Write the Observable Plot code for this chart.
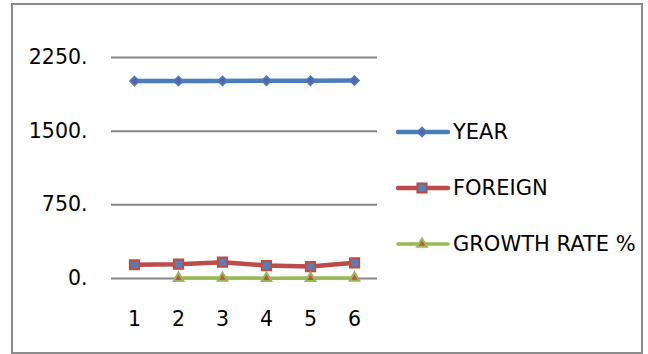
<!DOCTYPE html>
<html><head><meta charset="utf-8">
<script src="https://cdn.jsdelivr.net/npm/d3@7"></script>
<script src="https://cdn.jsdelivr.net/npm/@observablehq/plot@0.6"></script>
<style>
body{margin:0;background:#fff;}
#wrap{position:relative;width:648px;height:354px;overflow:hidden;font-family:"DejaVu Sans",sans-serif;background:#fff;}
#frame{position:absolute;left:11px;top:3px;width:632px;height:351px;border:2px solid #8c8c8c;box-sizing:border-box;}
#chart{position:absolute;left:0;top:0;}
.item{position:absolute;left:396px;height:24px;display:flex;align-items:center;white-space:nowrap;font-size:21px;color:#000;}
.item svg{display:block;margin-right:3px;}
</style></head>
<body>
<div id="wrap"><div id="frame"></div><div id="chart"></div></div>
<script>
const xLabels = [1, 2, 3, 4, 5, 6];
const yTicks = [0, 750, 1500, 2250];
const seriesNames = ["YEAR", "FOREIGN", "GROWTH RATE %"];
const year = [2010, 2011, 2012, 2013, 2014, 2015];
const foreign = [140, 146, 166, 132, 122, 160];
const growth = [null, 4.2, 5.1, 3.5, 4.0, 6.3];

const rows = xLabels.map((x, i) => ({x, year: year[i], foreign: foreign[i], growth: growth[i]}));
const growthRows = rows.filter(d => d.growth != null);

const C = {
  year: {line: "#4a7ebb", fill: "#5b63a8", stroke: "#4a7ebb", symbol: "diamond2", r: 4.2},
  foreign: {line: "#be4b48", fill: "#4f81bd", stroke: "#be4b48", symbol: "square", r: 5.2},
  growth: {line: "#98b954", fill: "#c0504d", stroke: "#98b954", symbol: "triangle", r: 3.6}
};

const fmt = d => d + ".";
const chart = Plot.plot({
  width: 648, height: 354,
  marginLeft: 111, marginRight: 271, marginTop: 57, marginBottom: 76,
  style: {fontFamily: "'DejaVu Sans', sans-serif", color: "#000", background: "transparent"},
  x: {type: "point", domain: xLabels, padding: 0.5},
  y: {domain: [0, 2250]},
  marks: [
    Plot.ruleY(yTicks, {stroke: "#878787", strokeWidth: 2}),
    Plot.axisY({ticks: yTicks, tickFormat: fmt, tickSize: 0, tickPadding: 24, fontSize: 20.5, label: null}),
    Plot.axisX({ticks: xLabels, tickSize: 0, tickPadding: 33, fontSize: 20.5, label: null}),
    Plot.line(rows, {x: "x", y: "year", stroke: C.year.line, strokeWidth: 4.5}),
    Plot.line(rows, {x: "x", y: "foreign", stroke: C.foreign.line, strokeWidth: 4.5}),
    Plot.line(growthRows, {x: "x", y: "growth", stroke: C.growth.line, strokeWidth: 3.5}),
    Plot.dot(rows, {x: "x", y: "year", symbol: C.year.symbol, r: C.year.r, fill: C.year.fill, stroke: C.year.stroke, strokeWidth: 1.5}),
    Plot.dot(rows, {x: "x", y: "foreign", symbol: C.foreign.symbol, r: C.foreign.r, fill: C.foreign.fill, stroke: C.foreign.stroke, strokeWidth: 2}),
    Plot.dot(growthRows, {x: "x", y: "growth", symbol: C.growth.symbol, r: C.growth.r, fill: C.growth.fill, stroke: C.growth.stroke, strokeWidth: 2})
  ]
});
document.getElementById("chart").appendChild(chart);

// legend
const keys = ["year", "foreign", "growth"];
const centers = [131.7, 188.3, 244];
const wrap = document.getElementById("wrap");
keys.forEach((k, i) => {
  const c = C[k];
  const item = document.createElement("div");
  item.className = "item";
  item.style.top = (centers[i] - 12) + "px";
  const symType = {diamond2: d3.symbolDiamond2, square: d3.symbolSquare, triangle: d3.symbolTriangle}[c.symbol];
  const path = d3.symbol(symType, Math.PI * c.r * c.r)();
  item.innerHTML = `<svg width="54" height="24"><line x1="2" x2="52" y1="12" y2="12" stroke="${c.line}" stroke-width="${k === 'growth' ? 3.5 : 4.5}" stroke-linecap="round"/><path d="${path}" transform="translate(26,12)" fill="${c.fill}" stroke="${c.stroke}" stroke-width="${k === 'year' ? 1.5 : 2}"/></svg><span>${seriesNames[i]}</span>`;
  wrap.appendChild(item);
});
</script>
</body></html>
